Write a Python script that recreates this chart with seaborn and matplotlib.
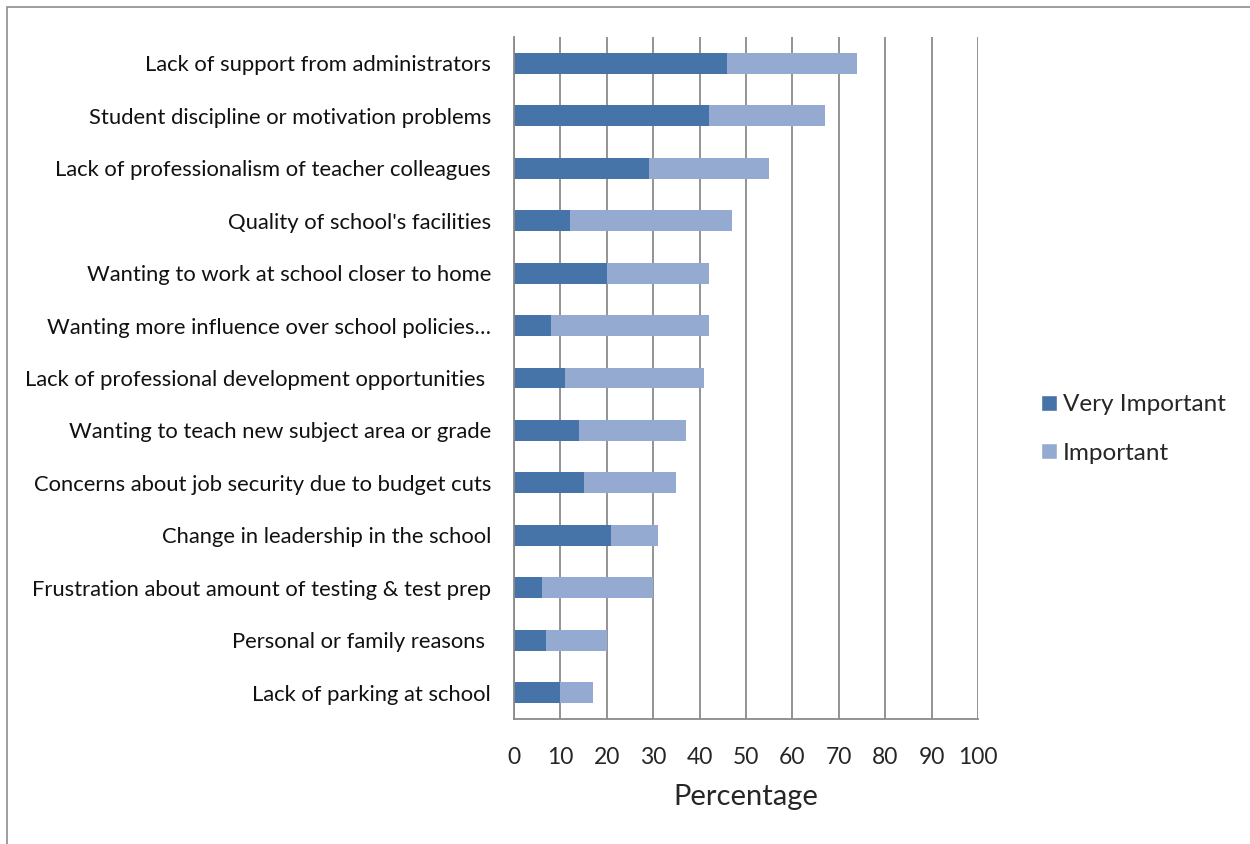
import matplotlib
matplotlib.use("Agg")
import matplotlib.pyplot as plt
from matplotlib.patches import Rectangle, Patch
import seaborn as sns
import pandas as pd

sns.set_theme(style="white")
plt.rcParams["font.family"] = ["Lato", "DejaVu Sans"]

reasons = [
    "Lack of support from administrators",
    "Student discipline or motivation problems",
    "Lack of professionalism of teacher colleagues",
    "Quality of school's facilities",
    "Wanting to work at school closer to home",
    "Wanting more influence over school policies\u2026",
    "Lack of professional development opportunities ",
    "Wanting to teach new subject area or grade",
    "Concerns about job security due to budget cuts",
    "Change in leadership in the school",
    "Frustration about amount of testing & test prep",
    "Personal or family reasons ",
    "Lack of parking at school",
]
very_important = [46, 42, 29, 12, 20, 8, 11, 14, 15, 21, 6, 7, 10]
important = [28, 25, 26, 35, 22, 34, 30, 23, 20, 10, 24, 13, 7]
x_ticks = [0, 10, 20, 30, 40, 50, 60, 70, 80, 90, 100]

df = pd.DataFrame({"reason": reasons, "very": very_important, "imp": important})
df["total"] = df["very"] + df["imp"]

DARK = "#4673A8"
LIGHT = "#95AAD1"
GRID = "#8a8a8a"

fig = plt.figure(figsize=(12.5, 8.44), dpi=100)
ax = fig.add_axes([514 / 1250, 1 - 719 / 844, (978 - 514) / 1250, (719 - 37) / 844])

# stacked bars: full length in the light tone, the "very important" part on top
sns.barplot(data=df, y="reason", x="total", color=LIGHT, width=0.4,
            saturation=1, orient="h", ax=ax, edgecolor="none")
sns.barplot(data=df, y="reason", x="very", color=DARK, width=0.4,
            saturation=1, orient="h", ax=ax, edgecolor="none")

ax.set_xlim(0, 100)
ax.set_ylim(len(reasons) - 0.5, -0.5)
ax.set_xticks(x_ticks)
ax.set_xticklabels([str(t) for t in x_ticks], fontsize=16.5)
ax.set_xlabel("Percentage", fontsize=21, labelpad=12)
ax.set_ylabel("")
ax.tick_params(axis="y", length=0, pad=16.5, labelsize=15.8)
ax.tick_params(axis="x", length=8, width=1.2, color=GRID, pad=12)
for lab in ax.get_yticklabels():
    lab.set_color("#111111")

ax.xaxis.grid(True, color=GRID, linewidth=1.3)
ax.yaxis.grid(False)
ax.set_axisbelow(True)
for side in ["top", "right"]:
    ax.spines[side].set_visible(False)
for side in ["left", "bottom"]:
    ax.spines[side].set_color(GRID)
    ax.spines[side].set_linewidth(1.3)

handles = [Patch(facecolor=DARK, label="Very Important"),
           Patch(facecolor=LIGHT, label="Important")]
fig.legend(handles=handles, loc="center left", bbox_to_anchor=(1019 / 1250, 1 - 429 / 844),
           frameon=False, fontsize=17.5, handlelength=0.65, handleheight=0.65,
           handletextpad=0.25, labelspacing=1.12)

# outer chart frame
fig.add_artist(Rectangle((7 / 1250, -0.2), 1.5, 0.2 + (1 - 7 / 844), transform=fig.transFigure,
                         fill=False, edgecolor="#8c8c8c", linewidth=1.2, clip_on=False))

fig.savefig("out.png", dpi=100)
